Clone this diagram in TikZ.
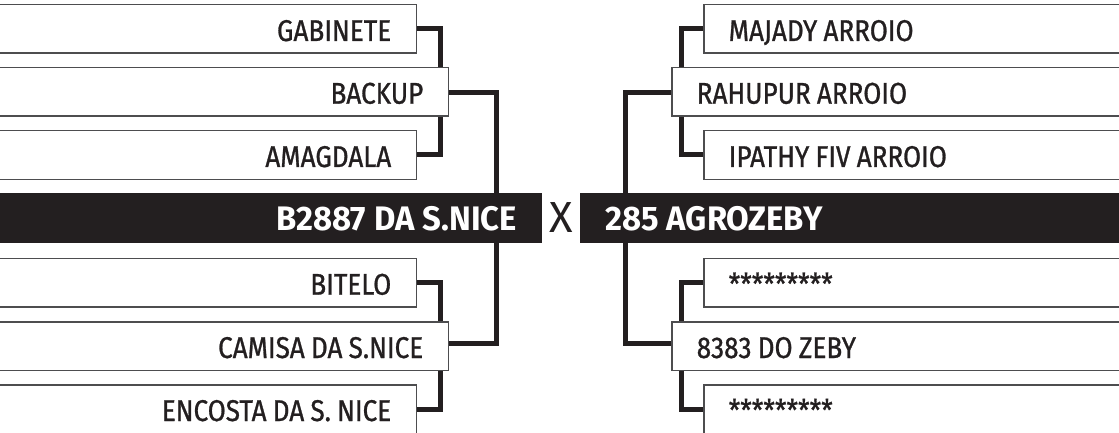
\documentclass[tikz,border=0pt]{standalone}
\usepackage{fontspec}
\newfontfamily\labelfont[FakeStretch=0.87,FakeBold=0.9]{Fira Sans}
\newfontfamily\titlefont[FakeStretch=0.965]{Fira Sans}
\newfontfamily\xfont{Fira Sans}
\newcommand\mylblfont{\labelfont\fontsize{30}{32}\selectfont}
\newcommand\myttlfont{\titlefont\bfseries\fontsize{34}{36}\selectfont}
\definecolor{ink}{HTML}{231F20}
\definecolor{edge}{HTML}{4D4D4F}
\tikzset{
  box/.style={draw=edge, line width=1.5pt, fill=white, text=ink,
    font=\mylblfont, execute at begin node={\spaceskip=6.2pt\relax},
    inner xsep=25pt, inner ysep=0pt, minimum height=48.5pt,
    text height=24pt, text depth=0pt},
  lsmall/.style={box, anchor=north east, text width=377pt, align=right},
  lbig/.style={box, anchor=north east, text width=409pt, align=right},
  rsmall/.style={box, anchor=north west, text width=377pt, align=left},
  rbig/.style={box, anchor=north west, text width=409pt, align=left},
  bar/.style={fill=ink, text=white, draw=none,
    font=\myttlfont, execute at begin node={\spaceskip=8pt\relax},
    inner xsep=25pt, inner ysep=0pt, minimum height=50pt,
    text height=26pt, text depth=0pt, text width=500pt},
  conn/.style={draw=ink, line width=5pt, line join=miter}
}
\begin{document}
\begin{tikzpicture}[x=1pt,y=-1pt]
\useasboundingbox (0,0) rectangle (1119,433);
% left side
\node[lsmall] (gab) at (417,4) {GABINETE};
\node[lbig] (backup) at (449,66.7) {BACKUP};
\node[lsmall] (amag) at (417,130) {AMAGDALA};
\node[bar, anchor=north east, align=right] (lbar) at (542,192.7) {B2887 DA S.NICE};
\node[lsmall] (bitelo) at (417,257.7) {BITELO};
\node[lbig] (camisa) at (449,321) {CAMISA DA S.NICE};
\node[lsmall] (encosta) at (417,384) {ENCOSTA DA S. NICE};
% right side
\node[rsmall] (majady) at (703,4) {MAJADY ARROIO};
\node[rbig] (rahupur) at (671,66.7) {RAHUPUR ARROIO};
\node[rsmall] (ipathy) at (703,130) {IPATHY FIV ARROIO};
\node[bar, anchor=north west, align=left] (rbar) at (580,192.7) {285 AGROZEBY};
\node[rsmall] (ast1) at (703,257.7) {*********};
\node[rbig] (zeby) at (671,321) {8383 DO ZEBY};
\node[rsmall] (ast2) at (703,384) {*********};
% versus
\node[text=ink, font=\xfont\fontsize{43.5}{44}\selectfont, inner sep=0pt] (vs) at (561,217.5) {X};
% connectors
\draw[conn] (gab.east) -| ([xshift=-9pt]backup.north east);
\draw[conn] (amag.east) -| ([xshift=-9pt]backup.south east);
\draw[conn] ([yshift=-1.3pt]backup.east) -| ([xshift=-46pt]lbar.north east);
\draw[conn] (bitelo.east) -| ([xshift=-9pt]camisa.north east);
\draw[conn] (encosta.east) -| ([xshift=-9pt]camisa.south east);
\draw[conn] ([yshift=3pt]camisa.east) -| ([xshift=-46pt]lbar.south east);
\draw[conn] (majady.west) -| ([xshift=10pt]rahupur.north west);
\draw[conn] (ipathy.west) -| ([xshift=10pt]rahupur.south west);
\draw[conn] ([yshift=-1.3pt]rahupur.west) -| ([xshift=45pt]rbar.north west);
\draw[conn] (ast1.west) -| ([xshift=10pt]zeby.north west);
\draw[conn] (ast2.west) -| ([xshift=10pt]zeby.south west);
\draw[conn] ([yshift=3pt]zeby.west) -| ([xshift=45pt]rbar.south west);
\end{tikzpicture}
\end{document}
